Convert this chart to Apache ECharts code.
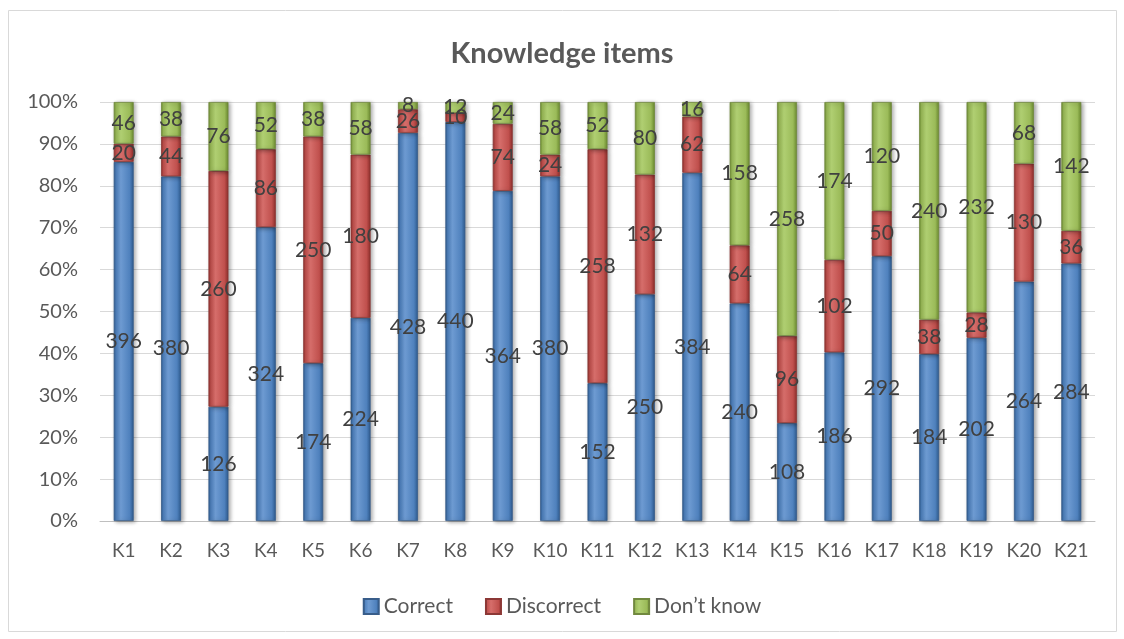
<!DOCTYPE html>
<html><head><meta charset="utf-8">
<script src="https://cdn.jsdelivr.net/npm/echarts@6/dist/echarts.min.js"></script>
<style>html,body{margin:0;padding:0;background:#fff}#c{width:1124px;height:639px}</style>
</head><body><div id="c"></div>
<script>
const categories = ['K1','K2','K3','K4','K5','K6','K7','K8','K9','K10','K11','K12','K13','K14','K15','K16','K17','K18','K19','K20','K21'];
const correct    = [396,380,126,324,174,224,428,440,364,380,152,250,384,240,108,186,292,184,202,264,284];
const discorrect = [20,44,260,86,250,180,26,10,74,24,258,132,62,64,96,102,50,38,28,130,36];
const dontKnow   = [46,38,76,52,38,58,8,12,24,58,52,80,16,158,258,174,120,240,232,68,142];
const seriesNames = ['Correct','Discorrect','Don\u2019t know'];

const raw = [correct, discorrect, dontKnow];
const totals = categories.map((_, i) => correct[i] + discorrect[i] + dontKnow[i]);
const font = 'Lato, "Open Sans", sans-serif';

function grad(dark, mid, light) {
  return new echarts.graphic.LinearGradient(0, 0, 1, 0, [
    {offset: 0, color: dark},
    {offset: 0.12, color: mid},
    {offset: 0.35, color: light},
    {offset: 0.8, color: mid},
    {offset: 1, color: dark}
  ]);
}
const styles = [
  {c: grad('#2d5a8e', '#4f81bd', '#6e9bd2'), b: '#385d8a', legend: '#4f81bd'},
  {c: grad('#8c2d2a', '#c0504d', '#d66e6b'), b: '#8c3836', legend: '#c0504d'},
  {c: grad('#6a8a2e', '#9bbb59', '#b0cf72'), b: '#71893f', legend: '#9bbb59'}
];

const series = raw.map((arr, s) => ({
  name: seriesNames[s],
  type: 'bar',
  stack: 'total',
  barWidth: 20,
  data: arr.map((v, i) => ({value: v / totals[i] * 100, raw: v})),
  itemStyle: {
    color: styles[s].c,
    borderColor: styles[s].b,
    borderWidth: 0.8,
    shadowColor: 'rgba(0,0,0,0.35)',
    shadowBlur: 4,
    shadowOffsetX: 2,
    shadowOffsetY: 1
  },
  label: {
    show: true,
    position: 'inside',
    color: '#404040',
    fontSize: 21,
    fontFamily: font,
    formatter: p => p.data.raw
  }
}));

const chart = echarts.init(document.getElementById('c'), null, {renderer: 'canvas'});
chart.setOption({
  animation: false,
  color: styles.map(s => s.legend),
  title: {
    text: 'Knowledge items',
    left: 'center',
    top: 34,
    textStyle: {fontFamily: font, fontSize: 29, fontWeight: 'bold', color: '#595959'}
  },
  graphic: [{
    type: 'rect',
    shape: {x: 8.5, y: 10.5, width: 1108, height: 621},
    style: {fill: 'none', stroke: '#d9d9d9', lineWidth: 1},
    silent: true
  }],
  legend: {
    bottom: 17,
    left: 'center',
    itemWidth: 15,
    itemHeight: 15,
    itemGap: 32,
    icon: 'rect',
    textStyle: {fontFamily: font, fontSize: 21, color: '#595959'},
    data: seriesNames
  },
  grid: {left: 100, right: 29, top: 102, bottom: 118},
  xAxis: {
    type: 'category',
    data: categories,
    axisLine: {lineStyle: {color: '#bfbfbf'}},
    axisTick: {show: false},
    axisLabel: {fontFamily: font, fontSize: 19, color: '#595959', margin: 20}
  },
  yAxis: {
    type: 'value',
    min: 0, max: 100, interval: 10,
    axisLabel: {formatter: '{value}%', fontFamily: font, fontSize: 20, color: '#595959', margin: 22},
    splitLine: {lineStyle: {color: '#d9d9d9'}},
    axisLine: {show: false},
    axisTick: {show: false}
  },
  series: series
});
</script></body></html>
